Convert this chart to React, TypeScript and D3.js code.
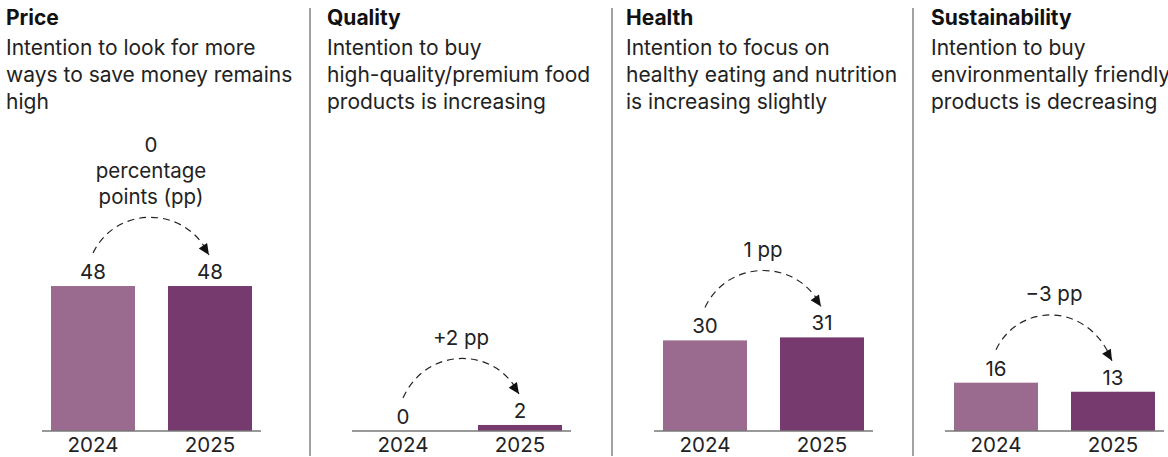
import * as d3 from 'd3'

const years = ['2024', '2025']
const titles = ['Price', 'Quality', 'Health', 'Sustainability']
const subtitles = [
  ['Intention to look for more', 'ways to save money remains', 'high'],
  ['Intention to buy', 'high-quality/premium food', 'products is increasing'],
  ['Intention to focus on', 'healthy eating and nutrition', 'is increasing slightly'],
  ['Intention to buy', 'environmentally friendly', 'products is decreasing'],
]
const values2024 = [48, 0, 30, 16]
const values2025 = [48, 2, 31, 13]
const changeLabels = [['0', 'percentage', 'points (pp)'], ['+2 pp'], ['1 pp'], ['\u22123 pp']]

const W = 1168
const H = 457
const panelX = [0, 310, 612, 903]
const textX = [6, 327, 626, 931]
const dividerX = [310, 612, 913]
const colors = ['#9a6b8f', '#773a6e']
const font = 'Inter, "Noto Sans", sans-serif'

const y = d3.scaleLinear().domain([0, 50]).range([431, 280])

function Panel({ i }: { i: number }) {
  const x = d3
    .scaleBand()
    .domain(years)
    .range([panelX[i] + 42, panelX[i] + 261])
    .paddingInner(0.282)
    .paddingOuter(0.077)
  const vals = [values2024[i], values2025[i]]
  const bw = x.bandwidth()
  const cx = years.map((yr) => (x(yr) as number) + bw / 2)

  // dashed arc from 2024 label to 2025 label
  const x0 = cx[0]
  const y0 = y(vals[0]) - 33
  const x3 = cx[1] - 1
  const y3 = y(vals[1]) - 31
  const dx = x3 - x0
  const top = Math.min(y0, y3)
  const p1: [number, number] = [x0 + dx * 0.2, top - 48]
  const p2: [number, number] = [x3 - dx * 0.2, top - 48]
  const path = d3.path()
  path.moveTo(x0, y0)
  path.bezierCurveTo(p1[0], p1[1], p2[0], p2[1], x3, y3)
  const ang = Math.atan2(y3 - p2[1], x3 - p2[0]) - 0.15
  const al = 11
  const aw = 5
  const bx = x3 - al * Math.cos(ang)
  const by = y3 - al * Math.sin(ang)
  const head = [
    [x3, y3],
    [bx + aw * Math.sin(ang), by - aw * Math.cos(ang)],
    [bx - aw * Math.sin(ang), by + aw * Math.cos(ang)],
  ]
  const peak = top - 36
  const lines = changeLabels[i]
  const midX = (x0 + x3) / 2

  return (
    <g>
      <text x={textX[i]} y={25} fontSize={21} fontWeight={700} fill="#111">
        {titles[i]}
      </text>
      {subtitles[i].map((s, j) => (
        <text key={j} x={textX[i]} y={55 + j * 27} fontSize={21} fill="#222">
          {s}
        </text>
      ))}
      {years.map((yr, j) => (
        <rect key={yr} x={x(yr)} y={y(vals[j])} width={bw} height={y(0) - y(vals[j])} fill={colors[j]} />
      ))}
      <line x1={panelX[i] + 42} x2={panelX[i] + 261} y1={y(0)} y2={y(0)} stroke="#777" strokeWidth={1.5} />
      {years.map((yr, j) => (
        <text key={yr} x={cx[j]} y={y(vals[j]) - 7} fontSize={20.5} textAnchor="middle" fill="#222">
          {vals[j]}
        </text>
      ))}
      {years.map((yr, j) => (
        <text key={yr} x={cx[j]} y={452} fontSize={20.5} textAnchor="middle" fill="#222">
          {yr}
        </text>
      ))}
      <path d={path.toString()} fill="none" stroke="#222" strokeWidth={1.2} strokeDasharray="7,5" />
      <polygon points={head.map((p) => p.join(',')).join(' ')} fill="#111" />
      {lines.map((s, j) => (
        <text
          key={j}
          x={midX}
          y={peak - 13 - (lines.length - 1 - j) * 26}
          fontSize={20.5}
          textAnchor="middle"
          fill="#222"
        >
          {s}
        </text>
      ))}
    </g>
  )
}

export default function App() {
  return (
    <svg
      width={W}
      height={H}
      style={{ position: 'absolute', left: 0, top: 0, background: '#fff' }}
      fontFamily={font}
    >
      <rect width={W} height={H} fill="#fff" />
      {dividerX.map((dx) => (
        <line key={dx} x1={dx} x2={dx} y1={8} y2={456} stroke="#444" strokeWidth={1} />
      ))}
      {titles.map((t, i) => (
        <Panel key={t} i={i} />
      ))}
    </svg>
  )
}
